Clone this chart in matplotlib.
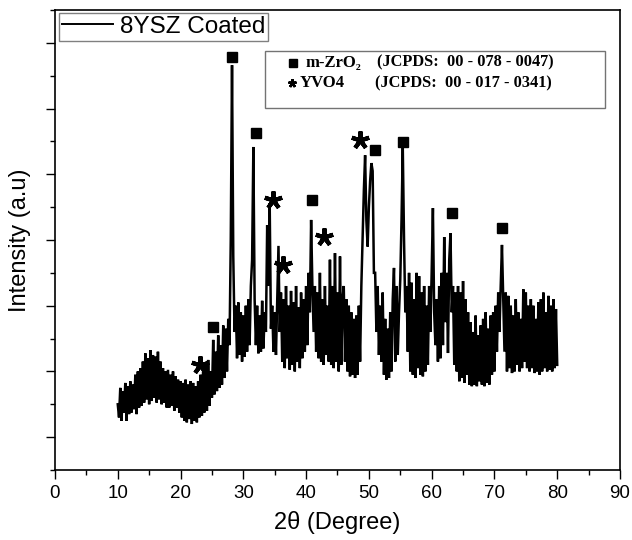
import matplotlib
matplotlib.use("Agg")
import matplotlib.pyplot as plt
import numpy as np
from matplotlib.lines import Line2D
from matplotlib.patches import Rectangle
from matplotlib.ticker import MultipleLocator

# XRD pattern, 2theta 10..80 step 0.2, intensity in arbitrary counts
two_theta = np.round(np.linspace(10.0, 80.0, 351), 1)
intensity = [
    200, 160, 250, 150, 240, 175, 265, 150, 255, 170,   # 10
    270, 175, 260, 185, 290, 170, 300, 190, 310, 195,   # 12
    330, 205, 355, 215, 340, 200, 365, 210, 350, 220,   # 14
    345, 205, 360, 215, 330, 200, 310, 205, 300, 190,   # 16
    305, 190, 290, 195, 300, 180, 285, 190, 275, 175,   # 18
    270, 160, 265, 150, 275, 145, 260, 155, 270, 140,   # 20
    265, 150, 255, 145, 270, 160, 290, 165, 300, 175,   # 22
    320, 180, 335, 195, 300, 220, 396, 230, 360, 240,   # 24
    410, 250, 380, 260, 440, 280, 430, 300, 460, 380,   # 26
    700, 1232, 650, 420, 500, 340, 510, 350, 480, 330,  # 28
    470, 345, 500, 360, 520, 380, 560, 640, 983, 520,   # 30
    380, 500, 355, 470, 360, 515, 370, 480, 420, 745,   # 32
    560, 812, 430, 500, 360, 480, 350, 520, 682, 420,   # 34
    540, 330, 520, 310, 560, 340, 500, 305, 545, 320,   # 36
    510, 300, 560, 330, 495, 310, 540, 340, 520, 360,   # 38
    560, 380, 600, 480, 761, 560, 420, 560, 360, 540,   # 40
    340, 600, 330, 520, 320, 560, 350, 500, 330, 640,   # 42
    320, 560, 310, 660, 330, 540, 300, 650, 320, 520,   # 44
    560, 330, 520, 300, 500, 285, 480, 290, 460, 280,   # 46
    470, 290, 500, 330, 560, 700, 850, 958, 760, 680,   # 48
    800, 880, 934, 910, 600, 600, 420, 560, 350, 500,   # 50
    330, 540, 290, 460, 275, 430, 280, 480, 300, 520,   # 52
    615, 330, 560, 350, 480, 580, 760, 983, 700, 480,   # 54
    560, 360, 600, 300, 570, 290, 520, 280, 600, 310,   # 56
    590, 290, 540, 285, 560, 300, 500, 320, 560, 420,   # 58
    600, 797, 480, 380, 520, 330, 560, 340, 600, 380,   # 60
    709, 450, 600, 356, 640, 721, 480, 560, 320, 540,   # 62
    300, 560, 270, 540, 280, 575, 265, 520, 290, 480,   # 64
    260, 450, 255, 420, 260, 470, 255, 410, 270, 440,   # 66
    260, 460, 255, 480, 265, 430, 260, 470, 290, 480,   # 68
    300, 500, 360, 540, 420, 560, 685, 520, 360, 540,   # 70
    300, 530, 310, 500, 295, 470, 300, 520, 320, 480,   # 72
    300, 460, 310, 550, 330, 540, 310, 500, 300, 520,   # 74
    310, 500, 295, 460, 300, 510, 290, 520, 300, 540,   # 76
    310, 480, 300, 530, 305, 500, 300, 520, 310, 490,   # 78
    320,                                                # 80
]

# phase markers above the peaks
zro2_x = [25.2, 28.2, 32.0, 40.9, 51.0, 55.4, 63.2, 71.2]
zro2_y = [435, 1257, 1025, 822, 974, 998, 782, 736]
yvo4_x = [23.1, 34.7, 36.3, 42.85, 48.6]
yvo4_y = [320, 822, 624, 709, 1004]

series_label = "8YSZ Coated"
phase_names = ["m-ZrO\u2082", "YVO4"]
phase_cards = ["(JCPDS:  00 - 078 - 0047)", "(JCPDS:  00 - 017 - 0341)"]

plt.rcParams["font.family"] = ["Liberation Sans", "DejaVu Sans"]

fig = plt.figure(figsize=(6.32, 5.4), dpi=100)
ax = fig.add_axes([0.087, 0.1296, 0.894, 0.852])

ax.plot(two_theta, intensity, color="black", lw=1.8, solid_joinstyle="miter")

ax.plot(zro2_x, zro2_y, ls="none", marker="s", ms=7, color="black")
ax.plot(yvo4_x, yvo4_y, ls="none", marker=(5, 2, 0), ms=13, mew=3, color="black")

ax.set_xlim(0, 90)
ax.set_ylim(0, 1400)
ax.xaxis.set_major_locator(MultipleLocator(10))
ax.xaxis.set_minor_locator(MultipleLocator(5))
ax.set_yticks(np.arange(100, 1400, 200))
ax.set_yticks(np.arange(0, 1401, 200), minor=True)
ax.tick_params(which="both", direction="out", top=False, right=False, width=1.0)
ax.tick_params(which="major", length=6.5)
ax.tick_params(which="minor", length=3.8)
ax.tick_params(axis="x", labelsize=13.5, pad=4)
ax.tick_params(axis="y", labelleft=False)
for sp in ax.spines.values():
    sp.set_linewidth(1.2)

ax.set_xlabel("2\u03b8 (Degree)", fontsize=17, va="center")
ax.xaxis.set_label_coords(0.5, -0.115)
ax.set_ylabel("Intensity (a.u)", fontsize=17, va="center")
ax.yaxis.set_label_coords(-0.062, 0.5)

# series legend
h = Line2D([], [], color="black", lw=1.4)
leg = ax.legend([h], [series_label], loc="upper left", bbox_to_anchor=(0.007, 0.9935),
                borderaxespad=0, fontsize=17.5, fancybox=False, edgecolor="0.5",
                borderpad=0.12, handlelength=2.1, handletextpad=0.3, framealpha=1)
leg.get_frame().set_linewidth(1.0)

# phase legend
ax.add_patch(Rectangle((0.3717, 0.787), 0.6018, 0.124, transform=ax.transAxes,
                       fill=False, edgecolor="0.45", lw=1.0))
rows_y = [0.885, 0.841]
ax.plot([0.422], [rows_y[0]], transform=ax.transAxes, marker="s", ms=6, color="black")
ax.plot([0.4195], [rows_y[1]], transform=ax.transAxes, marker=(5, 2, 0), ms=6, mew=1.8,
        color="black")
serif = ["Liberation Serif", "DejaVu Serif"]
name_x = [0.4425, 0.4336]
card_x = [0.570, 0.566]
for i in range(2):
    ax.text(name_x[i], rows_y[i], phase_names[i], transform=ax.transAxes, family=serif,
            fontsize=12, fontweight="bold", va="center", ha="left")
    ax.text(card_x[i], rows_y[i], phase_cards[i], transform=ax.transAxes, family=serif,
            fontsize=11.8, fontweight="bold", va="center", ha="left")

fig.savefig("out.png", dpi=100)
